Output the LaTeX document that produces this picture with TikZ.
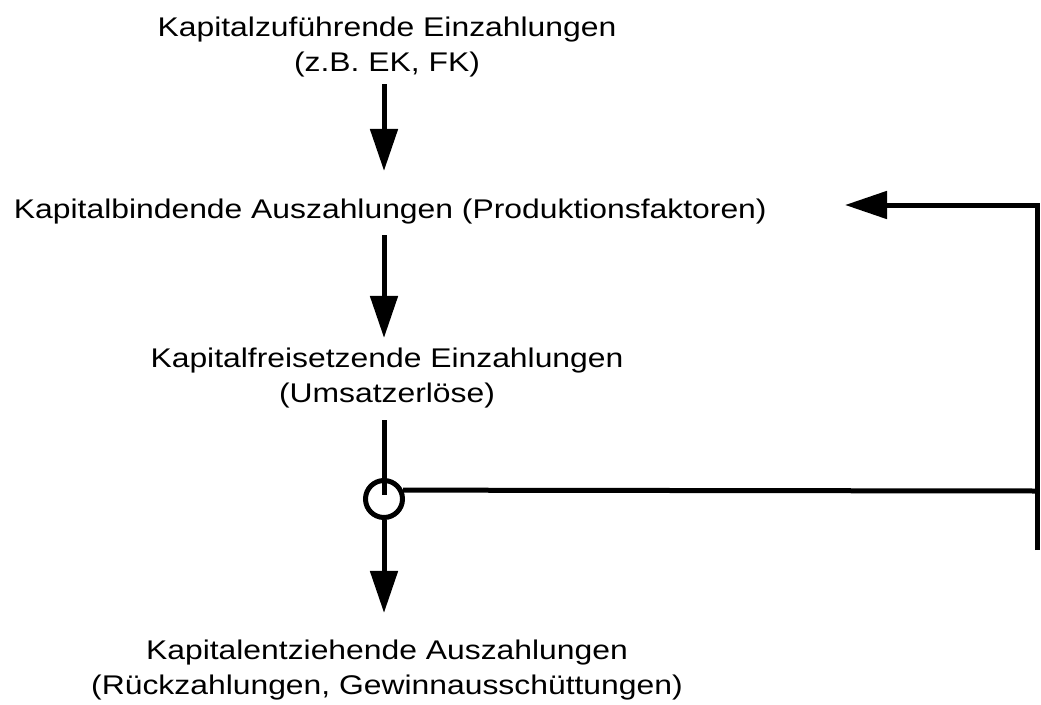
\documentclass[tikz,border=0pt]{standalone}
\usepackage{fontspec}
\setmainfont{Liberation Sans}
\usetikzlibrary{arrows.meta,positioning}

\begin{document}
\begin{tikzpicture}[x=1pt,y=-1pt,line width=5pt,
    lbl/.style={font=\fontsize{27}{35}\selectfont,align=center,inner sep=0pt,xscale=1.18},
    flow/.style={-{Triangle[length=42pt,width=27pt]}}]
    \useasboundingbox (0,0) rectangle (1041,704);
    % the four stages
    \node[lbl,anchor=base] (zufuehr) at (387,71) {Kapitalzuführende Einzahlungen\\(z.B. EK, FK)};
    \node[lbl,anchor=base west] (bind) at (11,218) {Kapitalbindende Auszahlungen (Produktionsfaktoren)};
    \node[lbl,anchor=base] (frei) at (387,402) {Kapitalfreisetzende Einzahlungen\\(Umsatzerlöse)};
    \node[lbl,anchor=base] (entzieh) at (387,694) {Kapitalentziehende Auszahlungen\\(Rückzahlungen, Gewinnausschüttungen)};
    % junction circle
    \node[draw,circle,minimum size=37pt,inner sep=0pt] (jn) at (384,499) {};
    % main flow
    \draw[flow,shorten <=5pt,shorten >=25pt] (jn |- zufuehr.south) -- (jn |- bind.north);
    \draw[flow,shorten <=9pt,shorten >=7pt] (jn |- bind.south) -- (jn |- frei.north);
    \draw[shorten <=10pt,shorten >=4pt] (jn |- frei.south) -- (jn.center);
    \draw[flow,shorten >=24pt] (jn.south) -- (jn |- entzieh.north);
    % feedback to the investments
    \coordinate (fbjoin) at (1037,491);
    \coordinate (fbend) at (1037,550);
    \coordinate (fbtop) at (1037,205);
    \coordinate (fbtip) at (845,205);
    \draw (jn.25) -- (fbjoin);
    \draw[flow] (fbend) -- (fbtop) -- (fbtip);
\end{tikzpicture}
\end{document}
